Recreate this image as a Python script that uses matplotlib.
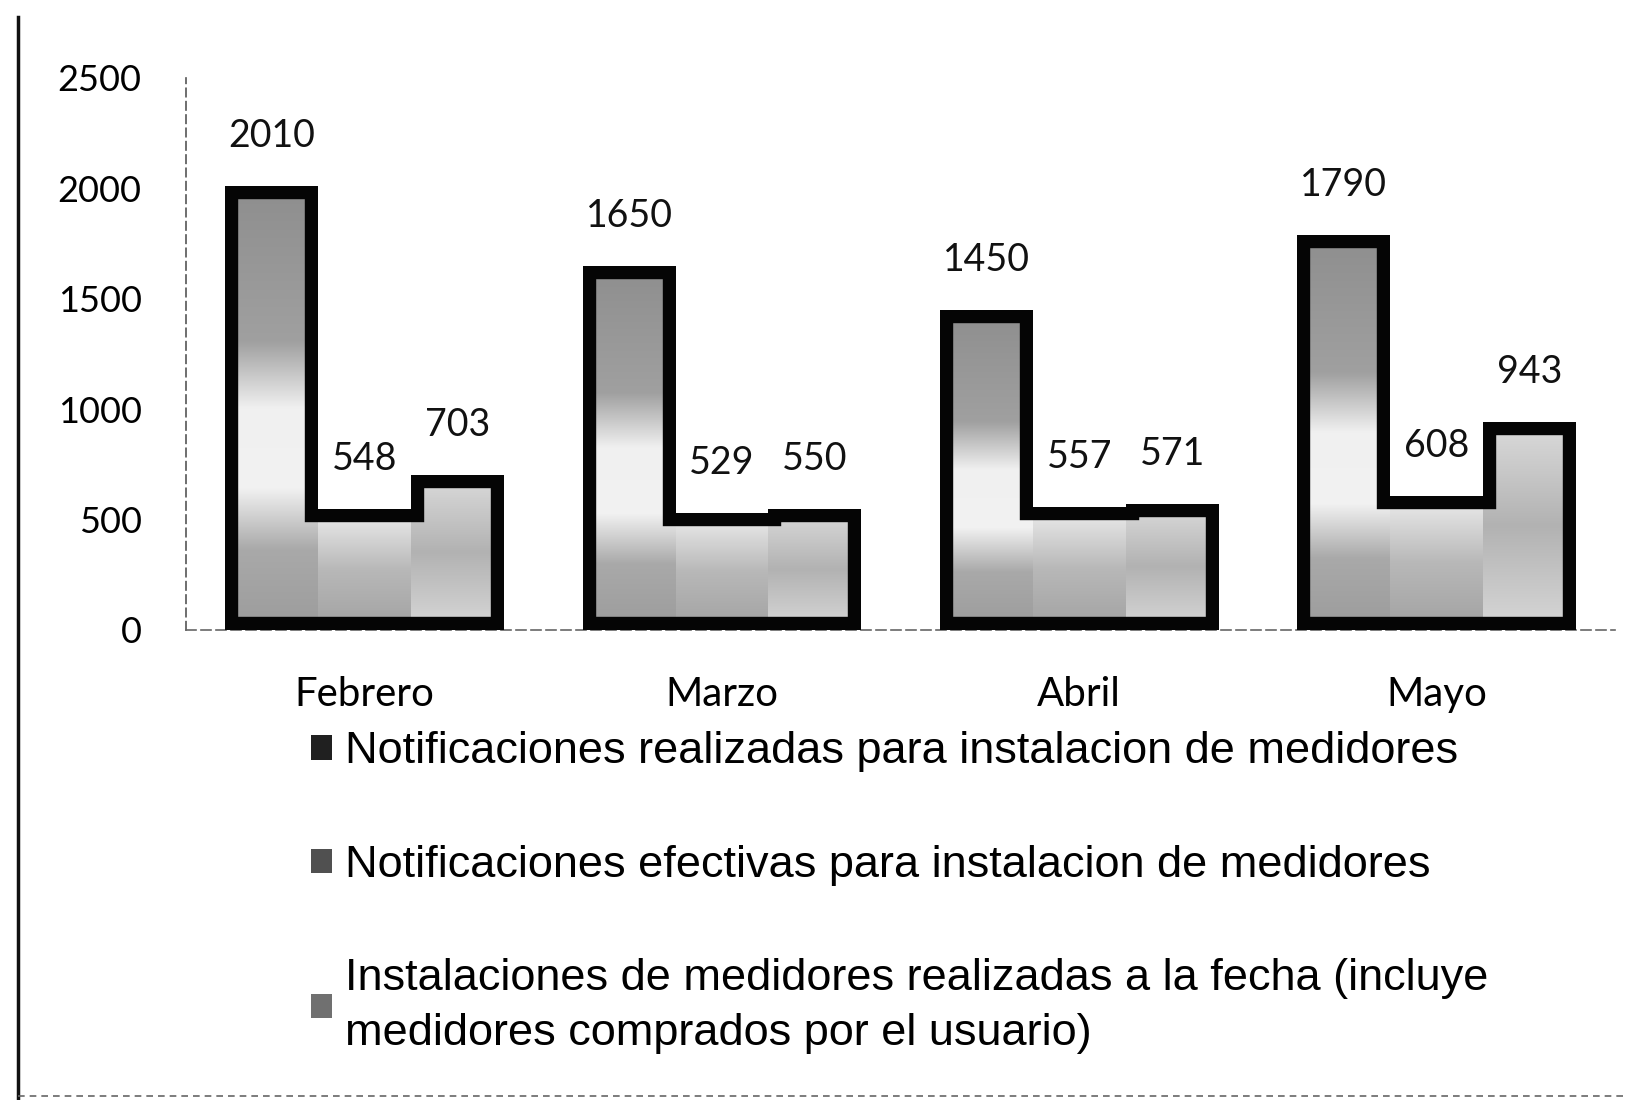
import numpy as np
import matplotlib
matplotlib.use("Agg")
import matplotlib.pyplot as plt
from matplotlib.colors import LinearSegmentedColormap
from matplotlib.patches import Polygon, Patch
from matplotlib.lines import Line2D

# ---------------- data ----------------
months = ["Febrero", "Marzo", "Abril", "Mayo"]
realizadas = [2010, 1650, 1450, 1790]
efectivas = [548, 529, 557, 608]
instalaciones = [703, 550, 571, 943]
series_labels = [
    "Notificaciones realizadas para instalacion de medidores",
    "Notificaciones efectivas para instalacion de medidores",
    "Instalaciones de medidores realizadas a la fecha (incluye\nmedidores comprados por el usuario)",
]
yticks = [0, 500, 1000, 1500, 2000, 2500]

# ---------------- style ----------------
num_font = "Lato"
txt_font = "Liberation Sans"
cmaps = [
    LinearSegmentedColormap.from_list("s1", [(0, "#9c9c9c"), (0.18, "#a9a9a9"), (0.32, "#f2f2f2"),
                                              (0.5, "#f0f0f0"), (0.65, "#a0a0a0"), (1, "#8e8e8e")]),
    LinearSegmentedColormap.from_list("s2", [(0, "#a2a2a2"), (0.5, "#b8b8b8"), (1, "#eeeeee")]),
    LinearSegmentedColormap.from_list("s3", [(0, "#d8d8d8"), (0.5, "#b2b2b2"), (1, "#dcdcdc")]),
]
legend_colors = ["#202020", "#505050", "#707070"]

fig = plt.figure(figsize=(16.39, 11), dpi=100)
ax = fig.add_axes([0.1135, 0.4273, 0.872, 0.5018])

x = np.arange(len(months))
w = 0.26
offsets = [-w, 0, w]
series = [realizadas, efectivas, instalaciones]

bar_groups = []
grad = np.linspace(0, 1, 256).reshape(-1, 1)
for k, (vals, off) in enumerate(zip(series, offsets)):
    bars = ax.bar(x + off, vals, w, color="none", linewidth=0, zorder=2)
    bar_groups.append(bars)
    for b in bars:
        x0, bw, bh = b.get_x(), b.get_width(), b.get_height()
        im = ax.imshow(grad, extent=[x0, x0 + bw, 0, bh], origin="lower", aspect="auto",
                       cmap=cmaps[k], vmin=0, vmax=1, zorder=2, interpolation="bilinear")
        im.set_clip_path(b)
    for b, v in zip(bars, vals):
        ax.annotate(str(v), (b.get_x() + b.get_width() / 2, v), xytext=(0, 36),
                    textcoords="offset points", ha="center", va="center",
                    fontsize=27, family=num_font, color="#111111")

# thick outline drawn inside the union silhouette of each month's bars
for i in range(len(months)):
    verts = []
    b_list = [g[i] for g in bar_groups]
    verts.append((b_list[0].get_x(), 0))
    for b in b_list:
        verts.append((b.get_x(), b.get_height()))
        verts.append((b.get_x() + b.get_width(), b.get_height()))
    verts.append((b_list[-1].get_x() + b_list[-1].get_width(), 0))
    poly = Polygon(verts, closed=True, facecolor="none", edgecolor="#050505",
                   linewidth=19, joinstyle="miter", zorder=3)
    ax.add_patch(poly)
    poly.set_clip_path(poly)

ax.set_xlim(-0.5, len(months) - 0.5)
ax.set_ylim(0, 2500)
ax.set_yticks(yticks)
ax.set_yticklabels([str(t) for t in yticks], fontsize=26, family=num_font)
ax.set_xticks(x)
ax.set_xticklabels(months, fontsize=29, family=num_font)
ax.tick_params(axis="y", length=0, pad=32)
ax.tick_params(axis="x", length=0, pad=33)
for s in ["top", "right"]:
    ax.spines[s].set_visible(False)
ax.spines["left"].set_color("#555555")
ax.spines["left"].set_linestyle((0, (5, 3)))
ax.spines["left"].set_linewidth(1.2)
ax.spines["bottom"].set_color("#666666")
ax.spines["bottom"].set_linestyle((0, (6, 3)))
ax.spines["bottom"].set_linewidth(1.2)

handles = [Patch(facecolor=c, edgecolor="none") for c in legend_colors]
leg = fig.legend(handles, series_labels, loc="upper left", bbox_to_anchor=(0.19, 0.335),
                 frameon=False, borderpad=0, borderaxespad=0,
                 handlelength=0.45, handleheight=0.45, handletextpad=0.3,
                 labelspacing=1.6, prop={"family": txt_font, "size": 32.5})
for t in leg.get_texts():
    t.set_linespacing(1.45)

# scan border marks
fig.add_artist(Line2D([0.011, 0.011], [0.0, 0.985], transform=fig.transFigure,
                      color="#111111", lw=2.5))
fig.add_artist(Line2D([0.011, 0.99], [0.004, 0.004], transform=fig.transFigure,
                      color="#666666", lw=1.2, linestyle=(0, (4, 3))))

fig.savefig("out.png", dpi=100)
